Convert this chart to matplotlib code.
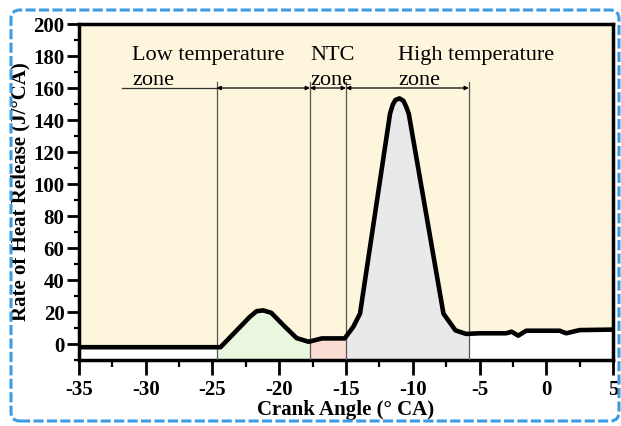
import matplotlib
matplotlib.use("Agg")
import matplotlib.pyplot as plt
import numpy as np
from matplotlib.patches import FancyBboxPatch
from matplotlib.transforms import IdentityTransform
from matplotlib.ticker import MultipleLocator

# Data
crank_angle = [-35.0, -24.4, -22.2, -21.7, -21.2, -20.6, -19.6, -18.7, -17.8, -16.8,
               -15.1, -14.45, -13.95, -11.7, -11.5, -11.3, -11.0, -10.7, -10.5, -10.3,
               -7.7, -6.8, -6.0, -5.0, -3.0, -2.6, -2.1, -1.5, 1.0, 1.5, 2.5, 5.0]
heat_release = [-2.0, -2.0, 17.0, 20.5, 21.0, 19.5, 11.0, 3.7, 1.4, 3.5,
                3.5, 10.8, 19.0, 144.0, 149.5, 152.5, 153.5, 152.0, 148.5, 144.0,
                19.0, 8.5, 6.3, 6.7, 6.7, 7.7, 5.2, 8.3, 8.3, 6.7, 8.7, 9.0]

zone_bounds = [-24.7, -17.7, -15.0, -5.8]
zone_colors = ["#EAF7DF", "#FADDD2", "#E9E9E9"]
zone_labels = [("Low temperature", "zone"), ("NTC", "zone"), ("High temperature", "zone")]
zone_label_x = [-31.0, -17.7, -11.1]

x_ticks = [-35, -30, -25, -20, -15, -10, -5, 0, 5]
y_ticks = [0, 20, 40, 60, 80, 100, 120, 140, 160, 180, 200]

serif = ["Liberation Serif", "DejaVu Serif"]
plt.rcParams["font.family"] = serif

fig = plt.figure(figsize=(6.21, 4.26), dpi=100)
ax = fig.add_axes([79 / 621, 1 - 360 / 426, (613 - 79) / 621, (360 - 24) / 426])
ax.set_facecolor("#FDF6DD")
ax.set_xlim(-35, 5)
ax.set_ylim(-10, 200)

x = np.array(crank_angle)
y = np.array(heat_release)
xf = np.linspace(-35, 5, 2001)
yf = np.interp(xf, x, y)

# white below curve outside zones
ax.fill_between(xf, -10, yf, where=(xf <= zone_bounds[0]) | (xf >= zone_bounds[-1]),
                color="white", lw=0, zorder=1)
for i, c in enumerate(zone_colors):
    m = (xf >= zone_bounds[i]) & (xf <= zone_bounds[i + 1])
    ax.fill_between(xf[m], -10, yf[m], color=c, lw=0, zorder=1)

ax.plot(x, y, color="black", lw=3.3, solid_capstyle="round", solid_joinstyle="round", zorder=4)

# vertical zone lines
for b in zone_bounds:
    ax.plot([b, b], [-10, 164], color="#555555", lw=0.9, zorder=3)

# horizontal line with arrows
ax.plot([-31.8, zone_bounds[0]], [160, 160], color="#333333", lw=0.9, zorder=3)
for i in range(len(zone_bounds) - 1):
    ax.annotate("", xy=(zone_bounds[i], 160), xytext=(zone_bounds[i + 1], 160),
                arrowprops=dict(arrowstyle="<|-|>", color="black", lw=0.9,
                                mutation_scale=6, shrinkA=0, shrinkB=0), zorder=3)

for (l1, l2), lx in zip(zone_labels, zone_label_x):
    ax.text(lx, 177.5, l1, fontsize=16, family=serif, va="baseline", ha="left", zorder=5)
    ax.text(lx, 161.8, l2, fontsize=16, family=serif, va="baseline", ha="left", zorder=5)

ax.set_xticks(x_ticks)
ax.set_yticks(y_ticks)
ax.xaxis.set_minor_locator(MultipleLocator(2.5))
ax.yaxis.set_minor_locator(MultipleLocator(10))
ax.set_xticklabels([str(t) for t in x_ticks])
ax.set_yticklabels([str(t) for t in y_ticks])
ax.tick_params(axis="x", which="major", direction="out", length=11, width=2, labelsize=15, pad=3.5)
ax.tick_params(axis="x", which="minor", direction="out", length=5, width=1.6)
ax.tick_params(axis="y", which="major", direction="out", length=9, width=2, labelsize=15, pad=1.5)
ax.tick_params(axis="y", which="minor", direction="out", length=3.5, width=1.6)
for lab in ax.get_xticklabels() + ax.get_yticklabels():
    lab.set_fontweight("bold")
ax.tick_params(top=False, right=False)
for s in ax.spines.values():
    s.set_linewidth(2.5)

ax.set_xlabel("Crank Angle (° CA)", fontsize=15, fontweight="bold", labelpad=0)
ax.set_ylabel("Rate of Heat Release (J/°CA)", fontsize=15, fontweight="bold", labelpad=2)

border = FancyBboxPatch((11, 5), 608, 411, boxstyle="round,pad=0,rounding_size=9",
                        transform=IdentityTransform(), fill=False,
                        edgecolor="#3B9BE3", lw=2.2, linestyle=(0, (3.3, 1.1)))
fig.patches.append(border)

fig.savefig("out.png", dpi=100)
